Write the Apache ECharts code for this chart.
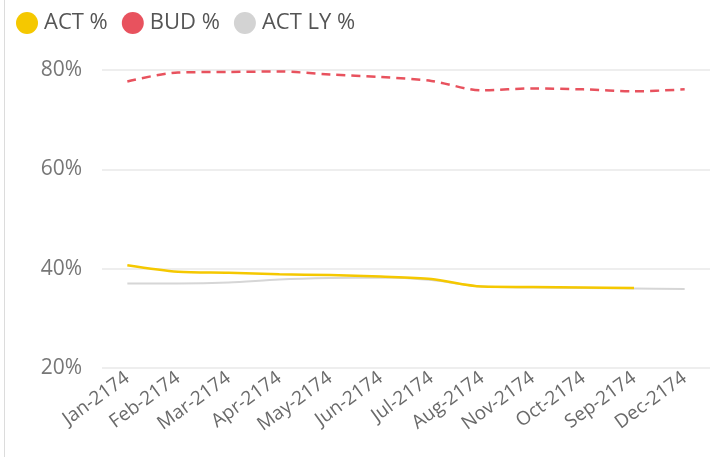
<!DOCTYPE html>
<html>
<head>
    <meta charset="utf-8">
    <title>ACT vs BUD</title>
    <style>
        body { margin: 0; background: #fff; }
        #chart1 { position: absolute; left: 0; top: 0; width: 710px; height: 457px; }
        #edge { position: absolute; left: 4px; top: 0; width: 1px; height: 457px; background: #dcdcdc; }
    </style>
</head>
<body>
<div id="chart1"></div>
<div id="edge"></div>
<script src="https://cdn.jsdelivr.net/npm/echarts@6/dist/echarts.min.js"></script>
<script type="text/javascript">
    // 数据
    var months = ['Jan-2174', 'Feb-2174', 'Mar-2174', 'Apr-2174', 'May-2174', 'Jun-2174',
        'Jul-2174', 'Aug-2174', 'Nov-2174', 'Oct-2174', 'Sep-2174', 'Dec-2174'];
    var actPct = [40.7, 39.4, 39.2, 38.9, 38.7, 38.4, 37.9, 36.4, 36.3, 36.2, 36.1, null];
    var budPct = [77.7, 79.5, 79.6, 79.7, 79.1, 78.6, 77.8, 75.9, 76.3, 76.1, 75.7, 76.1];
    var actLyPct = [37.0, 37.0, 37.2, 37.8, 38.1, 38.2, 37.7, 36.4, 36.2, 36.1, 36.0, 35.9];
    var yTicks = [20, 40, 60, 80];

    var font = "'Segoe UI', 'Open Sans', sans-serif";
    var myChart1 = echarts.init(document.getElementById('chart1'));
    myChart1.setOption({
        animation: false,
        color: ['#F5C800', '#E8525E', '#D3D3D3'],
        legend: {
            left: 11,
            top: 7,
            icon: 'circle',
            itemWidth: 22,
            itemHeight: 22,
            itemGap: 14,
            textStyle: { fontFamily: font, fontSize: 22, color: '#555', padding: [0, 0, 0, 1] },
            data: ['ACT %', 'BUD %', 'ACT LY %']
        },
        grid: { left: 102, top: 70, width: 628, bottom: 89, containLabel: false },
        xAxis: {
            type: 'category',
            data: months,
            boundaryGap: true,
            axisLine: { show: false },
            axisTick: { show: false },
            axisLabel: { rotate: 36, margin: 8, fontFamily: font, fontSize: 19, color: '#6a6a6a', interval: 0 }
        },
        yAxis: {
            type: 'value',
            min: yTicks[0],
            max: yTicks[yTicks.length - 1],
            interval: 20,
            axisLabel: { formatter: '{value}%', margin: 20, fontFamily: font, fontSize: 21, color: '#777' },
            splitLine: { lineStyle: { color: '#e8e8e8', width: 1.5 } }
        },
        series: [{
            name: 'ACT %',
            type: 'line',
            data: actPct,
            smooth: 0.3,
            symbol: 'none',
            z: 3,
            lineStyle: { width: 2.5, color: '#F5C800' }
        }, {
            name: 'BUD %',
            type: 'line',
            data: budPct,
            smooth: 0.3,
            symbol: 'none',
            lineStyle: { width: 2.5, type: [9, 6], color: '#E8525E' }
        }, {
            name: 'ACT LY %',
            type: 'line',
            data: actLyPct,
            smooth: 0.3,
            symbol: 'none',
            z: 2,
            lineStyle: { width: 2, color: '#D6D6D6' }
        }]
    });
</script>
</body>
</html>
